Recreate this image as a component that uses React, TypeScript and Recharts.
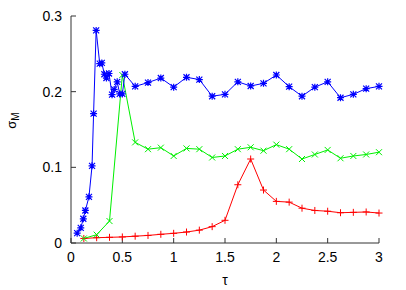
import React from 'react';
import { LineChart, Line, XAxis, YAxis } from 'recharts';

// ---- data ----
const blueTau = [0.06, 0.095, 0.12, 0.14, 0.175, 0.205, 0.22, 0.245, 0.28, 0.3, 0.325, 0.345, 0.37, 0.4, 0.42, 0.45, 0.475, 0.5, 0.525, 0.625, 0.75, 0.875, 1.0, 1.125, 1.25, 1.375, 1.5, 1.625, 1.75, 1.875, 2.0, 2.125, 2.25, 2.375, 2.5, 2.625, 2.75, 2.875, 3.0];
const blueSigma = [0.013, 0.02, 0.032, 0.043, 0.061, 0.102, 0.171, 0.281, 0.237, 0.238, 0.223, 0.218, 0.224, 0.196, 0.203, 0.213, 0.197, 0.197, 0.223, 0.207, 0.212, 0.218, 0.206, 0.219, 0.216, 0.194, 0.1965, 0.213, 0.2075, 0.211, 0.222, 0.2066, 0.194, 0.206, 0.213, 0.192, 0.1965, 0.204, 0.207];

const greenTau = [0.125, 0.25, 0.375, 0.5, 0.625, 0.75, 0.875, 1.0, 1.125, 1.25, 1.375, 1.5, 1.625, 1.75, 1.875, 2.0, 2.125, 2.25, 2.375, 2.5, 2.625, 2.75, 2.875, 3.0];
const greenSigma = [0.006, 0.011, 0.029, 0.222, 0.133, 0.124, 0.126, 0.115, 0.125, 0.124, 0.113, 0.115, 0.124, 0.1265, 0.122, 0.13, 0.124, 0.111, 0.117, 0.123, 0.112, 0.115, 0.117, 0.12];

const redTau = [0.125, 0.25, 0.375, 0.5, 0.625, 0.75, 0.875, 1.0, 1.125, 1.25, 1.375, 1.5, 1.625, 1.75, 1.875, 2.0, 2.125, 2.25, 2.375, 2.5, 2.625, 2.75, 2.875, 3.0];
const redSigma = [0.006, 0.007, 0.0075, 0.008, 0.009, 0.01, 0.0115, 0.0128, 0.0145, 0.017, 0.0216, 0.03, 0.077, 0.111, 0.07, 0.055, 0.054, 0.046, 0.043, 0.042, 0.04, 0.0405, 0.041, 0.0396];

const xTicks = [0, 0.5, 1, 1.5, 2, 2.5, 3];
const yTicks = [0, 0.1, 0.2, 0.3];
const xLabel = 'τ';
const yLabelMain = 'σ';
const yLabelSub = 'M';

const zip = (t: number[], s: number[]) => t.map((tau, i) => ({ tau, sigma: s[i] }));
const blueData = zip(blueTau, blueSigma);
const greenData = zip(greenTau, greenSigma);
const redData = zip(redTau, redSigma);

const RED = '#ff0000';
const GREEN = '#00f000';
const BLUE = '#0000ff';
const FRAME = '#333333';
const FONT = '"Liberation Sans", Arial, Helvetica, sans-serif';

const plusDot = (color: string) => (p: any) => {
  const { cx, cy, index } = p;
  if (cx == null || cy == null) return <g key={`p${index}`} />;
  return (
    <path key={`p${index}`} d={`M${cx - 3.5},${cy}h7M${cx},${cy - 3.5}v7`} stroke={color} strokeWidth={1} fill="none" />
  );
};
const crossDot = (color: string) => (p: any) => {
  const { cx, cy, index } = p;
  if (cx == null || cy == null) return <g key={`c${index}`} />;
  return (
    <path key={`c${index}`} d={`M${cx - 3},${cy - 3}l6,6M${cx - 3},${cy + 3}l6,-6`} stroke={color} strokeWidth={1} fill="none" />
  );
};
const starDot = (color: string) => (p: any) => {
  const { cx, cy, index } = p;
  if (cx == null || cy == null) return <g key={`s${index}`} />;
  return (
    <path
      key={`s${index}`}
      d={`M${cx - 3.5},${cy}h7M${cx},${cy - 3.5}v7M${cx - 3},${cy - 3}l6,6M${cx - 3},${cy + 3}l6,-6`}
      stroke={color}
      strokeWidth={1.2}
      fill="none"
    />
  );
};

const fmt = (v: number) => String(v);
const empty = () => <g />;

const YLabel = (props: any) => {
  const vb = props.viewBox || { x: 0, y: 16, width: 71, height: 227 };
  const x = vb.x + 15.5;
  const y = vb.y + vb.height / 2 - 9;
  return (
    <text x={x} y={y} transform={`rotate(-90 ${x} ${y})`} textAnchor="middle" fontSize={13} fontFamily={FONT} fill="#000">
      {yLabelMain}
      <tspan dy={3} fontSize={10}>{yLabelSub}</tspan>
    </text>
  );
};

const XLabel = (props: any) => {
  const vb = props.viewBox || { x: 71, y: 243, width: 308, height: 47 };
  return (
    <text x={vb.x + vb.width / 2} y={vb.y + vb.height - 5} textAnchor="middle" fontSize={14} fontFamily={FONT} fill="#000">
      {xLabel}
    </text>
  );
};

export default function App() {
  return (
    <div style={{ position: 'absolute', left: 0, top: 0, width: 406, height: 290, background: '#fff' }}>
      <LineChart width={406} height={290} margin={{ top: 16, right: 27, left: 0, bottom: 0 }}>
        <XAxis
          xAxisId={0}
          dataKey="tau"
          type="number"
          domain={[0, 3]}
          ticks={xTicks}
          tickFormatter={fmt}
          height={47}
          tickSize={-5}
          tickMargin={14}
          axisLine={{ stroke: FRAME, strokeWidth: 1 }}
          tickLine={{ stroke: FRAME, strokeWidth: 1 }}
          tick={{ fontSize: 14, fill: '#000', fontFamily: FONT }}
          interval={0}
          allowDecimals
          label={{ content: <XLabel /> }}
        />
        <XAxis
          xAxisId="top"
          orientation="top"
          dataKey="tau"
          type="number"
          domain={[0, 3]}
          ticks={xTicks}
          height={0}
          tickSize={-5}
          axisLine={{ stroke: FRAME, strokeWidth: 1 }}
          tickLine={{ stroke: FRAME, strokeWidth: 1 }}
          tick={empty}
          interval={0}
        />
        <YAxis
          yAxisId={0}
          type="number"
          domain={[0, 0.3]}
          ticks={yTicks}
          tickFormatter={fmt}
          width={71}
          tickSize={-5}
          tickMargin={14}
          axisLine={{ stroke: FRAME, strokeWidth: 1 }}
          tickLine={{ stroke: FRAME, strokeWidth: 1 }}
          tick={{ fontSize: 14, fill: '#000', fontFamily: FONT }}
          interval={0}
          label={{ content: <YLabel /> }}
        />
        <YAxis
          yAxisId="right"
          orientation="right"
          type="number"
          domain={[0, 0.3]}
          ticks={yTicks}
          width={0}
          tickSize={-5}
          axisLine={{ stroke: FRAME, strokeWidth: 1 }}
          tickLine={{ stroke: FRAME, strokeWidth: 1 }}
          tick={empty}
          interval={0}
        />
        <Line
          data={redData}
          dataKey="sigma"
          xAxisId={0}
          yAxisId={0}
          stroke={RED}
          strokeWidth={1}
          dot={plusDot(RED)}
          isAnimationActive={false}
          type="linear"
        />
        <Line
          data={greenData}
          dataKey="sigma"
          xAxisId={0}
          yAxisId={0}
          stroke={GREEN}
          strokeWidth={1}
          dot={crossDot(GREEN)}
          isAnimationActive={false}
          type="linear"
        />
        <Line
          data={blueData}
          dataKey="sigma"
          xAxisId={0}
          yAxisId={0}
          stroke={BLUE}
          strokeWidth={1}
          dot={starDot(BLUE)}
          isAnimationActive={false}
          type="linear"
        />
      </LineChart>
    </div>
  );
}
